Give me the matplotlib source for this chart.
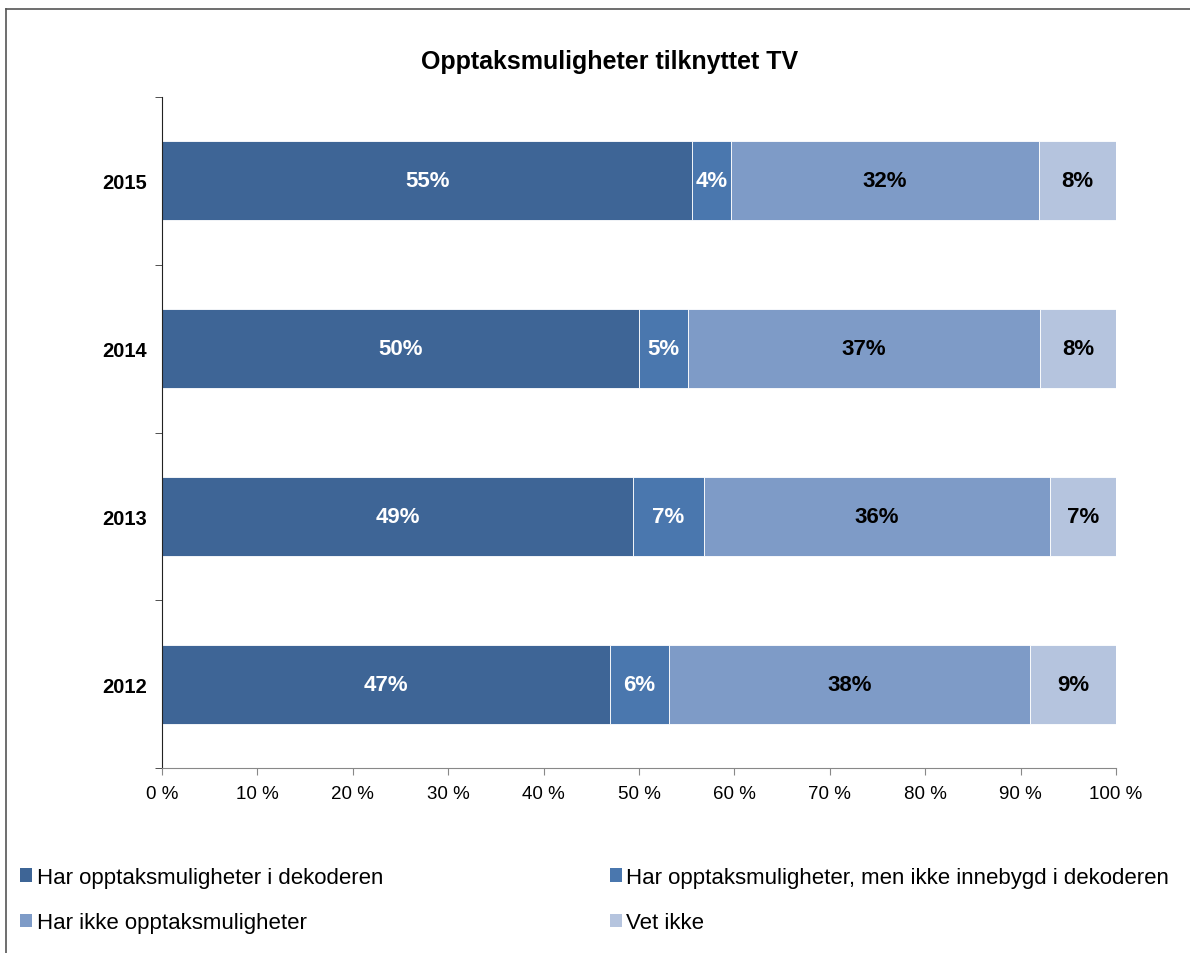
import numpy as np
import matplotlib.pyplot as plt
from matplotlib.patches import Patch
from matplotlib.lines import Line2D

plt.rcParams['font.family'] = ['Liberation Sans', 'DejaVu Sans']

years = ['2012', '2013', '2014', '2015']
series = ['Har opptaksmuligheter i dekoderen',
          'Har opptaksmuligheter, men ikke innebygd i dekoderen',
          'Har ikke opptaksmuligheter',
          'Vet ikke']
i_dekoder = [47.0, 49.4, 50.0, 55.6]
ikke_innebygd = [6.1, 7.4, 5.1, 4.0]
ikke_opptak = [37.9, 36.3, 36.9, 32.3]
vet_ikke = [9.0, 6.9, 8.0, 8.1]
labels = [['47%', '49%', '50%', '55%'],
          ['6%', '7%', '5%', '4%'],
          ['38%', '36%', '37%', '32%'],
          ['9%', '7%', '8%', '8%']]

colors = ['#3e6596', '#4a77ae', '#7e9bc7', '#b5c4de']
text_colors = ['white', 'white', 'black', 'black']

fig = plt.figure(figsize=(11.9, 9.54), dpi=100)
ax = fig.add_axes([162 / 1190, 1 - 769 / 954, 954 / 1190, 671 / 954])

y = np.arange(len(years))
left = np.zeros(len(years))
for k, vals in enumerate([i_dekoder, ikke_innebygd, ikke_opptak, vet_ikke]):
    vals = np.array(vals)
    ax.barh(y, vals, left=left, height=0.47, color=colors[k],
            edgecolor='white', linewidth=0.6, label=series[k])
    for i in range(len(years)):
        ax.text(left[i] + vals[i] / 2, y[i], labels[k][i], ha='center', va='center',
                color=text_colors[k], fontsize=16, fontweight='bold')
    left += vals

ax.set_xlim(0, 100)
ax.set_ylim(-0.5, 3.5)
ax.set_xticks(np.arange(0, 101, 10))
ax.set_xticklabels([f'{v} %' for v in range(0, 101, 10)], fontsize=13.5)
ax.set_yticks(y)
ax.set_yticklabels(years, fontsize=14.5, fontweight='bold')
ax.set_yticks(np.arange(-0.5, 3.6, 1), minor=True)
ax.tick_params(axis='y', which='major', length=0, pad=11)
ax.tick_params(axis='y', which='minor', length=5, direction='out', color='#333333')
ax.tick_params(axis='x', length=5, direction='out', color='#888888', pad=7)
for s in ['top', 'right']:
    ax.spines[s].set_visible(False)
ax.spines['bottom'].set_color('#888888')
ax.spines['left'].set_color('#222222')

fig.text(610 / 1190, 1 - 62 / 954, 'Opptaksmuligheter tilknyttet TV',
         ha='center', va='center', fontsize=18, fontweight='bold')

# row-major order in a 2-column legend
order = [0, 2, 1, 3]
handles = [Patch(facecolor=colors[i], edgecolor='none') for i in order]
fig.legend(handles, [series[i] for i in order], loc='upper left',
           bbox_to_anchor=(11 / 1190, 1 - 859 / 954),
           ncol=2, frameon=False, fontsize=16, handlelength=0.55, handleheight=0.55,
           handletextpad=0.2, columnspacing=10.2, labelspacing=1.1, borderaxespad=0)

# frame around chart area
fig.add_artist(Line2D([6 / 1190, 6 / 1190], [0, 1 - 10 / 954], color='#555555', lw=1.2))
fig.add_artist(Line2D([6 / 1190, 1], [1 - 10 / 954, 1 - 10 / 954], color='#555555', lw=1.2))

fig.savefig('out.png', dpi=100)
